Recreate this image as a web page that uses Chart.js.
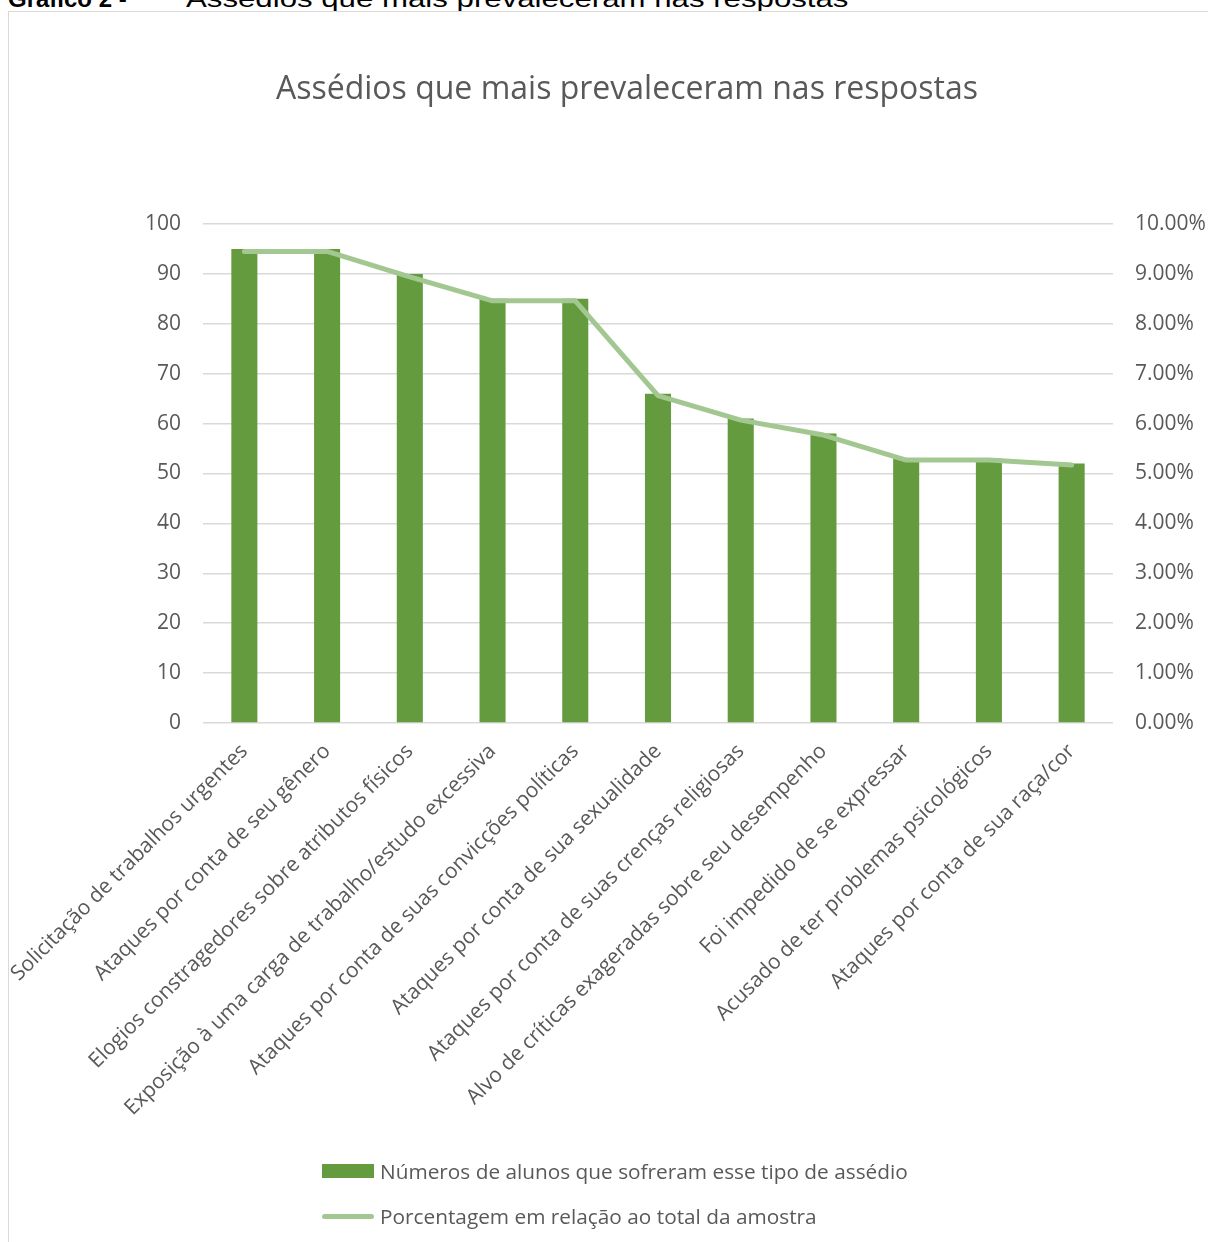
<!DOCTYPE html>
<html>
<head>
<meta charset="utf-8">
<script src="https://cdn.jsdelivr.net/npm/chart.js@4/dist/chart.umd.min.js"></script>
<style>
  html, body { margin: 0; padding: 0; width: 1208px; height: 1242px; overflow: hidden; background: #fff; }
  #caption { position: absolute; left: 8px; top: -13px; font-family: "Liberation Sans", Arial, sans-serif; font-size: 24px; line-height: 24px; color: #000; white-space: nowrap; }
  #caption b { font-weight: bold; }
  #caption .rest { display: inline-block; margin-left: 53px; transform: scaleX(1.3); transform-origin: left center; }
  #frame { position: absolute; left: 8px; top: 11px; width: 1236px; height: 1230px; border: 1px solid #d9d9d9; overflow: hidden; background: #fff; }
  #wrap { position: absolute; left: 0; top: 0; width: 1236px; height: 1230px; }
  .leg { position: absolute; left: 313px; font-family: "Open Sans", sans-serif; font-size: 20.8px; color: #595959; white-space: nowrap; display: flex; align-items: center; height: 30px; }
  .sw-bar { width: 52px; height: 14px; background: #639b3e; margin-right: 6px; }
  .sw-line { width: 52px; height: 5px; border-radius: 3px; background: #a3c791; margin-right: 6px; }
</style>
</head>
<body>
<div id="caption"><b>Gráfico 2 - </b><span class="rest">Assédios que mais prevaleceram nas respostas</span></div>
<div id="frame">
  <div id="wrap"><canvas id="c"></canvas></div>
  <div class="leg" style="top:1144px;"><span class="sw-bar"></span><span>Números de alunos que sofreram esse tipo de assédio</span></div>
  <div class="leg" style="top:1189px;"><span class="sw-line"></span><span>Porcentagem em relação ao total da amostra</span></div>
</div>
<script>
const categories = [
  "Solicitação de trabalhos urgentes",
  "Ataques por conta de seu gênero",
  "Elogios constragedores sobre atributos físicos",
  "Exposição à uma carga de trabalho/estudo excessiva",
  "Ataques por conta de suas convicções políticas",
  "Ataques por conta de sua sexualidade",
  "Ataques por conta de suas crenças religiosas",
  "Alvo de críticas exageradas sobre seu desempenho",
  "Foi impedido de se expressar",
  "Acusado de ter problemas psicológicos",
  "Ataques por conta de sua raça/cor"
];
const alunos = [95, 95, 90, 85, 85, 66, 61, 58, 53, 53, 52];
const porcentagem = [9.45, 9.45, 8.94, 8.46, 8.46, 6.56, 6.07, 5.77, 5.27, 5.27, 5.17];
const leftTicks = [0, 100, 10];
const rightTicks = [0, 10, 1];
const seriesNames = ["Números de alunos que sofreram esse tipo de assédio", "Porcentagem em relação ao total da amostra"];
const chartTitle = "Assédios que mais prevaleceram nas respostas";

const textColor = '#595959';
const fontFamily = '"Open Sans", sans-serif';

new Chart(document.getElementById('c'), {
  data: {
    labels: categories,
    datasets: [
      {
        type: 'line',
        label: seriesNames[1],
        data: porcentagem,
        yAxisID: 'y2',
        borderColor: '#a3c791',
        backgroundColor: '#a3c791',
        borderWidth: 5,
        pointRadius: 0,
        tension: 0,
        borderCapStyle: 'round',
        borderJoinStyle: 'round',
        order: 0
      },
      {
        type: 'bar',
        label: seriesNames[0],
        data: alunos,
        yAxisID: 'y',
        backgroundColor: '#639b3e',
        barPercentage: 0.315,
        categoryPercentage: 1,
        order: 1
      }
    ]
  },
  options: {
    responsive: true,
    maintainAspectRatio: false,
    animation: false,
    layout: { padding: 0 },
    plugins: {
      legend: { display: false },
      tooltip: { enabled: false },
      title: {
        display: true,
        text: chartTitle,
        color: textColor,
        font: { family: fontFamily, size: 32, weight: 'normal', lineHeight: 1.2 },
        padding: { top: 59, bottom: 114.6 }
      }
    },
    scales: {
      x: {
        grid: { display: false },
        border: { display: false },
        ticks: {
          color: textColor,
          font: { family: fontFamily, size: 21 },
          autoSkip: false,
          maxRotation: 45,
          minRotation: 45,
          padding: 8
        },
        afterFit: (s) => { s.height = 519; s.paddingLeft = 0; s.paddingRight = 0; }
      },
      y: {
        position: 'left',
        min: leftTicks[0], max: leftTicks[1],
        ticks: { stepSize: leftTicks[2], color: textColor, font: { family: fontFamily, size: 21 }, padding: 22 },
        grid: { color: '#d9d9d9', lineWidth: 1.5, drawTicks: false },
        border: { display: false },
        afterFit: (s) => { s.width = 194; s.paddingTop = 0; s.paddingBottom = 0; }
      },
      y2: {
        position: 'right',
        min: rightTicks[0], max: rightTicks[1],
        ticks: { stepSize: rightTicks[2], color: textColor, font: { family: fontFamily, size: 21 }, padding: 22,
          callback: (v) => Number(v).toFixed(2) + '%' },
        grid: { display: false, drawTicks: false },
        border: { display: false },
        afterFit: (s) => { s.width = 132; s.paddingTop = 0; s.paddingBottom = 0; }
      }
    }
  }
});
</script>
</body>
</html>
